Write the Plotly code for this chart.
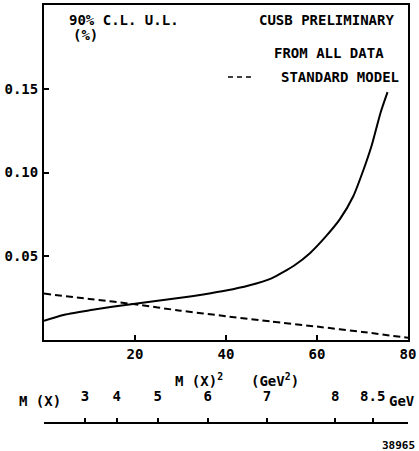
import plotly.graph_objects as go

# ---- data ----
msq_limit = [0, 4, 10, 15, 20, 25, 30, 35, 40, 45, 50, 55, 58.5, 62, 65, 68, 70, 72, 74, 75.5]
ul_limit = [0.0114, 0.0148, 0.0177, 0.0198, 0.0217, 0.0235, 0.0252, 0.0272, 0.0295, 0.0325,
            0.0368, 0.0445, 0.052, 0.062, 0.072, 0.086, 0.100, 0.116, 0.136, 0.148]

msq_sm = [0, 10, 20, 30, 40, 50, 60, 70, 80]
br_sm = [0.0277, 0.0245, 0.0213, 0.0175, 0.0142, 0.0110, 0.0080, 0.0048, 0.0013]

x_ticks = [20, 40, 60, 80]
y_ticks = [0.05, 0.10, 0.15]
y_tick_text = ["0.05", "0.10", "0.15"]

mass_labels = ["3", "4", "5", "6", "7", "8", "8.5"]
mass_values = [3, 4, 5, 6, 7, 8, 8.5]
mass_sq_positions = [m * m for m in mass_values]

FONT = "DejaVu Sans Mono"
FS = 14

fig = go.Figure()
fig.add_trace(go.Scatter(x=msq_limit, y=ul_limit, mode="lines",
                         line=dict(color="black", width=2, shape="spline", smoothing=0.6),
                         showlegend=False, hoverinfo="skip"))
fig.add_trace(go.Scatter(x=msq_sm, y=br_sm, mode="lines",
                         line=dict(color="black", width=2, dash="7px,4px", shape="spline", smoothing=0.4),
                         showlegend=False, hoverinfo="skip"))
# invisible trace to activate the secondary mass axis
fig.add_trace(go.Scatter(x=[0, 80], y=[None, None], xaxis="x2", yaxis="y",
                         mode="lines", showlegend=False, hoverinfo="skip"))

H = 451.0
PH = 446.0
def py(pix):
    return (H - pix) / PH
def px(pix):
    return (pix - 44) / 364.0

fig.update_layout(
    width=419, height=451,
    margin=dict(l=44, r=11, t=5, b=0),
    paper_bgcolor="white", plot_bgcolor="white",
    font=dict(family=FONT, size=FS, color="black", weight="bold"),
    xaxis=dict(range=[0, 80], domain=[0, 1], anchor="y",
               showline=True, linewidth=2, linecolor="black", mirror=True,
               showgrid=False, zeroline=False,
               ticks="inside", ticklen=5, tickwidth=1.5, tickcolor="black",
               tickvals=x_ticks, ticktext=[str(v) for v in x_ticks],
               tickfont=dict(family=FONT, size=FS, weight="bold")),
    yaxis=dict(range=[0, 0.2], domain=[py(340), 1],
               showline=True, linewidth=2, linecolor="black", mirror=True,
               showgrid=False, zeroline=False,
               ticks="inside", ticklen=5, tickwidth=1.5, tickcolor="black",
               tickvals=y_ticks, ticktext=y_tick_text,
               ticklabelstandoff=1,
               tickfont=dict(family=FONT, size=FS, weight="bold")),
    xaxis2=dict(range=[0, 80], domain=[0, 1], overlaying="x", anchor="free",
                position=py(423), side="top",
                showline=True, linewidth=1.5, linecolor="black",
                showgrid=False, zeroline=False,
                ticks="outside", ticklen=4, tickwidth=1.5, tickcolor="black",
                tickvals=mass_sq_positions, ticktext=mass_labels,
                ticklabelstandoff=12,
                tickfont=dict(family=FONT, size=FS, weight="bold")),
)

ann = [
    dict(text="90% C.L. U.L.", x=px(67), y=py(20), xanchor="left"),
    dict(text="(%)", x=px(71), y=py(35), xanchor="left"),
    dict(text="CUSB PRELIMINARY", x=px(396), y=py(20), xanchor="right"),
    dict(text="FROM ALL DATA", x=px(386), y=py(53), xanchor="right"),
    dict(text="STANDARD MODEL", x=px(401), y=py(77), xanchor="right"),
    dict(text="M (X)<sup>2</sup>", x=px(199), y=py(380), xanchor="center"),
    dict(text="(GeV<sup>2</sup>)", x=px(275), y=py(380), xanchor="center"),
    dict(text="M (X)", x=px(40), y=py(401), xanchor="center"),
    dict(text="GeV", x=px(402), y=py(401), xanchor="center"),
    dict(text="38965", x=px(417), y=py(445), xanchor="right", font=dict(size=11)),
]
for a in ann:
    a.update(xref="paper", yref="paper", yanchor="middle", showarrow=False)
    fig.add_annotation(**a)

fig.add_shape(type="line", xref="paper", yref="paper",
              x0=px(228), x1=px(254), y0=py(77), y1=py(77),
              line=dict(color="black", width=1.5, dash="5px,4px"))

fig.write_html("out.html")
